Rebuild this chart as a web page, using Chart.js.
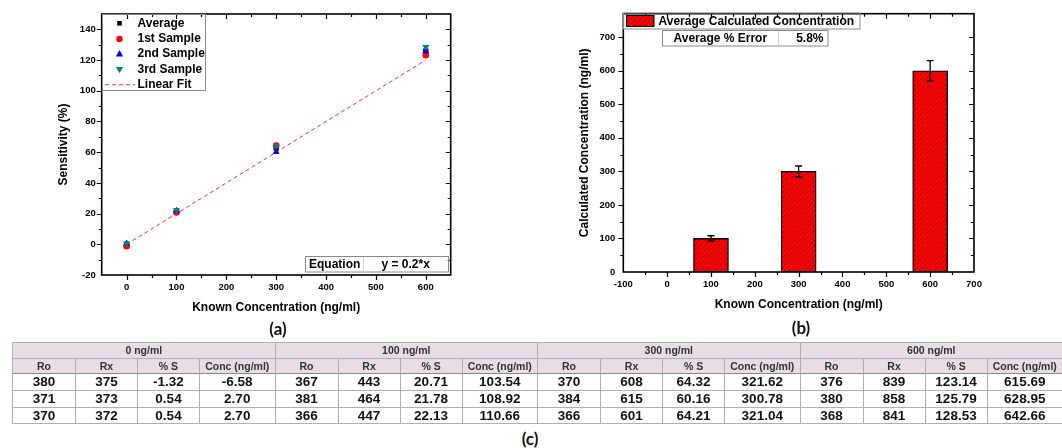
<!DOCTYPE html>
<html>
<head>
<meta charset="utf-8">
<script src="https://cdn.jsdelivr.net/npm/chart.js@4.4.0/dist/chart.umd.min.js"></script>
<style>
body { margin: 0; background: #fff; width: 1062px; height: 448px; overflow: hidden; position: relative; font-family: "Liberation Sans", Arial, sans-serif; }
#chartA { position: absolute; left: 0; top: 0; }
#chartB { position: absolute; left: 540px; top: 0; }
.tag { position: absolute; font-family: Lato, "Open Sans", sans-serif; font-weight: 700; font-size: 17px; transform: translate(-50%, -50%); color: #111; }
#tbl { position: absolute; left: 12px; top: 342px; border-collapse: collapse; table-layout: fixed; width: 1050px; }
#tbl td { border: 1px solid #b0b0b0; text-align: center; padding: 0; white-space: nowrap; overflow: hidden; }
#tbl tr.h td { background: #e8dce7; font-size: 10.5px; font-weight: bold; color: #333; height: 14.5px; }
#tbl tr.d td { font-size: 13.5px; font-weight: bold; color: #111; height: 15.8px; }
#tbl tr.h2 td { border-bottom: 1.5px solid #888; }
</style>
</head>
<body>
<canvas id="chartA" width="540" height="340"></canvas>
<canvas id="chartB" width="522" height="340"></canvas>
<div class="tag" style="left:278px;top:328px">(a)</div>
<div class="tag" style="left:801px;top:327px">(b)</div>
<table id="tbl"></table>
<div class="tag" style="left:530px;top:438px">(c)</div>

<script>
// chart (a): sensitivity vs known concentration
const knownConc = [0, 100, 300, 600];
const average = [-0.08, 21.54, 62.90, 125.82];
const sample1 = [-1.32, 20.71, 64.32, 123.14];
const sample2 = [0.54, 21.78, 60.16, 125.79];
const sample3 = [0.54, 22.13, 64.21, 128.53];
const fitX = [0, 600];
const fitY = [0, 120];
const seriesNames = ["Average", "1st Sample", "2nd Sample", "3rd Sample", "Linear Fit"];

// chart (b): calculated concentration bars
const barX = [100, 300, 600];
const barY = [100, 300, 600];
const barErr = [8, 16, 30];

// table (c)
const tableGroups = ["0 ng/ml", "100 ng/ml", "300 ng/ml", "600 ng/ml"];
const tableCols = ["Ro", "Rx", "% S", "Conc (ng/ml)"];
const tableRo = [[380, 371, 370], [367, 381, 366], [370, 384, 366], [376, 380, 368]];
const tableRx = [[375, 373, 372], [443, 464, 447], [608, 615, 601], [839, 858, 841]];
const tableS = [["-1.32", "0.54", "0.54"], ["20.71", "21.78", "22.13"], ["64.32", "60.16", "64.21"], ["123.14", "125.79", "128.53"]];
const tableConc = [["-6.58", "2.70", "2.70"], ["103.54", "108.92", "110.66"], ["321.62", "300.78", "321.04"], ["615.69", "628.95", "642.66"]];

const FONT = "'Liberation Sans', Arial, sans-serif";
Chart.defaults.font.family = FONT;
Chart.defaults.color = "#000";

function drawMarker(ctx, style, x, y, r, color) {
    ctx.fillStyle = color;
    ctx.beginPath();
    if (style === "rect") {
        ctx.rect(x - r * 0.72, y - r * 0.72, r * 1.44, r * 1.44);
    } else if (style === "circle") {
        ctx.arc(x, y, r, 0, Math.PI * 2);
    } else if (style === "tri") {
        ctx.moveTo(x, y - r); ctx.lineTo(x + r * 0.9, y + r * 0.6); ctx.lineTo(x - r * 0.9, y + r * 0.6); ctx.closePath();
    } else {
        ctx.moveTo(x, y + r); ctx.lineTo(x + r * 0.9, y - r * 0.6); ctx.lineTo(x - r * 0.9, y - r * 0.6); ctx.closePath();
    }
    ctx.fill();
}

// box frame with origin-style ticks
const framePlugin = {
    id: "frame",
    afterDraw(chart) {
        const { ctx, chartArea: a, scales: { x, y } } = chart;
        ctx.save();
        ctx.strokeStyle = "#000";
        ctx.lineWidth = 1.2;
        ctx.beginPath();
        x.ticks.forEach(t => {
            if (t.value <= x.min || t.value >= x.max) return;
            const px = Math.round(x.getPixelForValue(t.value)) + 0.5;
            const len = t.label !== "" ? 5 : 3;
            ctx.moveTo(px, a.bottom); ctx.lineTo(px, a.bottom + len);
            ctx.moveTo(px, a.top); ctx.lineTo(px, a.top + len);
        });
        y.ticks.forEach(t => {
            if (t.value <= y.min || t.value >= y.max) return;
            const py = Math.round(y.getPixelForValue(t.value)) + 0.5;
            const len = t.label !== "" ? 5 : 3;
            ctx.moveTo(a.left, py); ctx.lineTo(a.left - len, py);
            ctx.moveTo(a.right, py); ctx.lineTo(a.right - len, py);
        });
        ctx.stroke();
        ctx.lineWidth = 1.6;
        ctx.strokeRect(a.left, a.top, a.right - a.left, a.bottom - a.top);
        ctx.restore();
    }
};

const legendA = {
    id: "legendA",
    afterDraw(chart) {
        const ctx = chart.ctx;
        ctx.save();
        ctx.strokeStyle = "#8a8a8a";
        ctx.lineWidth = 1;
        ctx.strokeRect(102.5, 14.5, 103, 76);
        ctx.font = "bold 12px " + FONT;
        ctx.textBaseline = "middle";
        const rows = [23.3, 39, 54, 69.3, 84.7];
        drawMarker(ctx, "rect", 119.5, rows[0], 3.2, "#000");
        drawMarker(ctx, "circle", 119.5, rows[1], 3.2, "#ff0000");
        drawMarker(ctx, "tri", 119.5, rows[2], 4, "#0000ff");
        drawMarker(ctx, "itri", 119.5, rows[3], 4, "#008080");
        ctx.strokeStyle = "#ff3030";
        ctx.setLineDash([4, 3]);
        ctx.beginPath(); ctx.moveTo(105, rows[4]); ctx.lineTo(135, rows[4]); ctx.stroke();
        ctx.setLineDash([]);
        ctx.fillStyle = "#000";
        seriesNames.forEach((n, i) => ctx.fillText(n, 137.5, rows[i]));
        // equation box
        ctx.strokeStyle = "#8a8a8a";
        ctx.strokeRect(305.5, 256.5, 143, 15.5);
        ctx.strokeStyle = "#d0d0d0";
        ctx.beginPath(); ctx.moveTo(363.5, 257); ctx.lineTo(363.5, 271.5); ctx.stroke();
        ctx.fillText("Equation", 309, 264.5);
        ctx.fillText("y = 0.2*x", 381.5, 264.5);
        ctx.restore();
    }
};

function makeHatch() {
    const c = document.createElement("canvas");
    c.width = 5; c.height = 5;
    const g = c.getContext("2d");
    g.fillStyle = "#ff0000";
    g.fillRect(0, 0, 5, 5);
    g.strokeStyle = "rgba(70,0,0,0.75)";
    g.lineWidth = 0.7;
    g.beginPath();
    g.moveTo(0, 5); g.lineTo(5, 0);
    g.moveTo(-1, 1); g.lineTo(1, -1);
    g.moveTo(4, 6); g.lineTo(6, 4);
    g.stroke();
    return g.createPattern(c, "repeat");
}
const hatch = makeHatch();

const errorBars = {
    id: "errorBars",
    afterDatasetsDraw(chart) {
        const { ctx, scales: { y } } = chart;
        const meta = chart.getDatasetMeta(0);
        ctx.save();
        ctx.strokeStyle = "#000";
        ctx.lineWidth = 1.3;
        ctx.beginPath();
        meta.data.forEach((bar, i) => {
            const top = y.getPixelForValue(barY[i] + barErr[i]);
            const bot = y.getPixelForValue(barY[i] - barErr[i]);
            ctx.moveTo(bar.x, top); ctx.lineTo(bar.x, bot);
            ctx.moveTo(bar.x - 3.5, top); ctx.lineTo(bar.x + 3.5, top);
            ctx.moveTo(bar.x - 3.5, bot); ctx.lineTo(bar.x + 3.5, bot);
        });
        ctx.stroke();
        ctx.restore();
    }
};

const legendB = {
    id: "legendB",
    afterDraw(chart) {
        const ctx = chart.ctx;
        ctx.save();
        ctx.strokeStyle = "#8a8a8a";
        ctx.lineWidth = 1;
        ctx.strokeRect(83.5, 13, 236.5, 16);
        ctx.fillStyle = hatch;
        ctx.fillRect(86.5, 15.5, 27.5, 11);
        ctx.strokeStyle = "#000";
        ctx.strokeRect(86.5, 15.5, 27.5, 11);
        ctx.fillStyle = "#000";
        ctx.font = "bold 12px " + FONT;
        ctx.textBaseline = "middle";
        ctx.fillText(chart.data.datasets[0].label, 118.5, 21.5);
        ctx.strokeStyle = "#8a8a8a";
        ctx.strokeRect(122.5, 30.5, 165.5, 15.5);
        ctx.strokeStyle = "#d0d0d0";
        ctx.beginPath(); ctx.moveTo(238.5, 31); ctx.lineTo(238.5, 45.5); ctx.stroke();
        ctx.fillText("Average % Error", 133.5, 38.5);
        ctx.textAlign = "right";
        ctx.fillText("5.8%", 283.5, 38.5);
        ctx.restore();
    }
};

const tickFont = { size: 9.5, weight: "bold" };
const titleFont = { size: 12, weight: "bold" };

function pts(xs, ys) {
    return xs.map((x, i) => ({ x: x, y: ys[i] }));
}

new Chart(document.getElementById("chartA"), {
    type: "scatter",
    data: {
        datasets: [
            { label: seriesNames[0], data: pts(knownConc, average), pointStyle: "rect", pointRadius: 3.8, backgroundColor: "#000", borderColor: "#000", borderWidth: 0, order: 4 },
            { label: seriesNames[1], data: pts(knownConc, sample1), pointStyle: "circle", pointRadius: 3.3, backgroundColor: "#ff0000", borderColor: "#ff0000", borderWidth: 0, order: 3 },
            { label: seriesNames[2], data: pts(knownConc, sample2), pointStyle: "triangle", pointRadius: 4, backgroundColor: "#0000ff", borderColor: "#0000ff", borderWidth: 0, order: 2 },
            { label: seriesNames[3], data: pts(knownConc, sample3), pointStyle: "triangle", pointRotation: 180, pointRadius: 4, backgroundColor: "#008080", borderColor: "#008080", borderWidth: 0, order: 1 },
            { label: seriesNames[4], data: pts(fitX, fitY), showLine: true, pointRadius: 0, borderColor: "#ff3030", borderWidth: 1, borderDash: [4, 3], order: 5 }
        ]
    },
    options: {
        responsive: false,
        animation: false,
        layout: { padding: { top: 14, right: 89.3, left: 56.8, bottom: 24.8 } },
        plugins: { legend: { display: false }, tooltip: { enabled: false } },
        scales: {
            x: {
                type: "linear", min: -50, max: 650,
                ticks: { stepSize: 50, autoSkip: false, maxRotation: 0, padding: 7, font: tickFont, callback: v => (v % 100 === 0 && v >= 0 && v <= 600) ? v : "" },
                grid: { display: false, drawTicks: false },
                border: { display: false },
                title: { display: true, text: "Known Concentration (ng/ml)", font: titleFont, padding: 0 },
                afterFit: s => { s.height = 40.2; }
            },
            y: {
                min: -20, max: 150,
                ticks: { stepSize: 10, autoSkip: false, padding: 6, font: tickFont, callback: v => (v % 20 === 0 && v <= 140) ? v : "" },
                grid: { display: false, drawTicks: false },
                border: { display: false },
                title: { display: true, text: "Sensitivity (%)", font: titleFont, padding: 0 },
                afterFit: s => { s.width = 44.9; }
            }
        }
    },
    plugins: [framePlugin, legendA]
});

new Chart(document.getElementById("chartB"), {
    type: "bar",
    data: {
        datasets: [{
            label: "Average Calculated Concentration",
            data: pts(barX, barY),
            backgroundColor: hatch,
            borderColor: "#000",
            borderWidth: 1.3,
            borderSkipped: false,
            barThickness: 35
        }]
    },
    options: {
        responsive: false,
        animation: false,
        layout: { padding: { top: 12.7, right: 88, left: 37.8, bottom: 27.8 } },
        plugins: { legend: { display: false }, tooltip: { enabled: false } },
        scales: {
            x: {
                type: "linear", offset: false, min: -100, max: 700,
                ticks: { stepSize: 50, autoSkip: false, maxRotation: 0, padding: 7, font: tickFont, callback: v => v % 100 === 0 ? v : "" },
                grid: { display: false, drawTicks: false, offset: false },
                border: { display: false },
                title: { display: true, text: "Known Concentration (ng/ml)", font: titleFont, padding: 0 },
                afterFit: s => { s.height = 40.2; }
            },
            y: {
                min: 0, max: 770,
                ticks: { stepSize: 50, autoSkip: false, padding: 8, font: tickFont, callback: v => (v % 100 === 0 && v <= 700) ? v : "" },
                grid: { display: false, drawTicks: false },
                border: { display: false },
                title: { display: true, text: "Calculated Concentration (ng/ml)", font: titleFont, padding: 0 },
                afterFit: s => { s.width = 45.5; }
            }
        }
    },
    plugins: [errorBars, framePlugin, legendB]
});

// build table (c)
const colWidths = [63, 62, 62, 75.5];
const tbl = document.getElementById("tbl");
let html = "<colgroup>";
tableGroups.forEach(() => colWidths.forEach(w => { html += '<col style="width:' + w + 'px">'; }));
html += "</colgroup><tr class='h'>";
tableGroups.forEach(g => { html += "<td colspan='4'>" + g + "</td>"; });
html += "</tr><tr class='h h2'>";
tableGroups.forEach(() => tableCols.forEach(c => { html += "<td>" + c + "</td>"; }));
html += "</tr>";
for (let r = 0; r < 3; r++) {
    html += "<tr class='d'>";
    for (let g = 0; g < tableGroups.length; g++) {
        html += "<td>" + tableRo[g][r] + "</td><td>" + tableRx[g][r] + "</td><td>" + tableS[g][r] + "</td><td>" + tableConc[g][r] + "</td>";
    }
    html += "</tr>";
}
tbl.innerHTML = html;
</script>
</body>
</html>
